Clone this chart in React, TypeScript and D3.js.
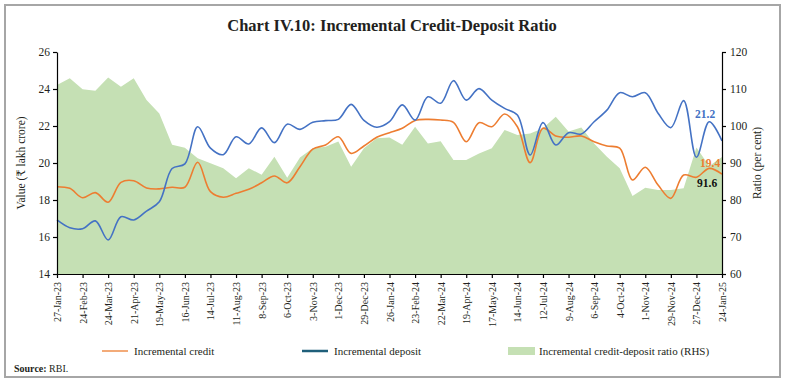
import React from "react";
import * as d3 from "d3";

// fortnightly observations, 27-Jan-23 to 24-Jan-25
const startDate = "27-Jan-23";

const tickLabels = [
  "27-Jan-23", "24-Feb-23", "24-Mar-23", "21-Apr-23", "19-May-23", "16-Jun-23",
  "14-Jul-23", "11-Aug-23", "8-Sep-23", "6-Oct-23", "3-Nov-23", "1-Dec-23",
  "29-Dec-23", "26-Jan-24", "23-Feb-24", "22-Mar-24", "19-Apr-24", "17-May-24",
  "14-Jun-24", "12-Jul-24", "9-Aug-24", "6-Sep-24", "4-Oct-24", "1-Nov-24",
  "29-Nov-24", "27-Dec-24", "24-Jan-25",
];

// ₹ lakh crore
const credit = [
  18.72, 18.63, 18.12, 18.4, 17.88, 18.95, 19.04, 18.65, 18.6, 18.69,
  18.69, 20.04, 18.45, 18.15, 18.36, 18.58, 18.93, 19.3, 18.93, 19.8,
  20.75, 20.97, 21.42, 20.52, 20.92, 21.39, 21.64, 21.88, 22.3, 22.36,
  22.32, 22.2, 21.15, 22.18, 21.96, 22.65, 21.96, 20.02, 21.88, 21.46,
  21.39, 21.46, 21.15, 20.92, 20.8, 19.08, 19.77, 18.81, 18.09, 19.35,
  19.23, 19.71, 19.4,
];

const deposit = [
  16.92, 16.5, 16.45, 16.87, 15.84, 17.1, 16.92, 17.4, 17.9, 19.7,
  19.95, 21.96, 20.8, 20.45, 21.42, 21.03, 21.9, 21.1, 22.1, 21.82,
  22.2, 22.29, 22.36, 23.17, 22.3, 21.93, 22.23, 23.14, 22.32, 23.58,
  23.23, 24.45, 23.4, 24.02, 23.4, 22.95, 22.6, 20.43, 22.18, 20.97,
  21.64, 21.57, 22.23, 22.86, 23.8, 23.58, 23.8, 22.69, 21.91, 23.37,
  20.31, 22.23, 21.2,
];

// per cent (RHS)
const ratio = [
  111.1, 112.9, 109.9, 109.5, 113.1, 110.6, 112.9, 107, 103.4, 94.9,
  94.1, 91.3, 89.9, 88.6, 85.9, 88.6, 86.8, 91.7, 86, 91.5,
  94, 94.4, 95.8, 89, 94, 96.7, 96.9, 94.9, 99.8, 95.3,
  95.9, 90.8, 90.8, 92.6, 94, 98.9, 97.6, 98, 99.4, 102.5,
  98.5, 99.6, 95.3, 91.7, 88.6, 81.1, 83.3, 82.7, 82.7, 83.2,
  94.2, 89.2, 91.6,
];

const leftTicks = [14, 16, 18, 20, 22, 24, 26];
const rightTicks = [60, 70, 80, 90, 100, 110, 120];

const FONT = "'Liberation Serif', 'DejaVu Serif', serif";
const ORANGE = "#ed7d31";
const BLUE = "#4472c4";
const GREEN = "#c5e0b4";

const App = () => {
  const ref = React.useRef(null);

  React.useEffect(() => {
    const svg = d3.select(ref.current);
    svg.selectAll("*").remove();

    const parse = d3.timeParse("%d-%b-%y");
    const t0 = parse(startDate);
    const dates = ratio.map((_, i) => d3.timeDay.offset(t0, 14 * i));

    const left = 57, right = 722, top = 52, bottom = 274;

    const x = d3.scaleTime()
      .domain([dates[0], dates[dates.length - 1]])
      .range([left, right]);
    const y = d3.scaleLinear().domain([14, 26]).range([bottom, top]);
    const y2 = d3.scaleLinear().domain([60, 120]).range([bottom, top]);

    // frame
    svg.append("rect")
      .attr("x", 5).attr("y", 5).attr("width", 775).attr("height", 372)
      .attr("fill", "#fff").attr("stroke", "#a6a6a6").attr("stroke-width", 2);

    svg.append("text")
      .attr("x", 392).attr("y", 31)
      .attr("text-anchor", "middle")
      .attr("font-family", FONT).attr("font-size", 16.5).attr("font-weight", 600)
      .attr("fill", "#231f20")
      .text("Chart IV.10: Incremental Credit-Deposit Ratio");

    // ratio area (RHS)
    const area = d3.area()
      .x((_, i) => x(dates[i]))
      .y0(y2(60))
      .y1((d) => y2(d));
    svg.append("path").datum(ratio).attr("d", area).attr("fill", GREEN);

    const line = d3.line()
      .x((_, i) => x(dates[i]))
      .y((d) => y(d))
      .curve(d3.curveCatmullRom.alpha(0.5));

    svg.append("path").datum(credit).attr("d", line)
      .attr("fill", "none").attr("stroke", ORANGE).attr("stroke-width", 1.6);
    svg.append("path").datum(deposit).attr("d", line)
      .attr("fill", "none").attr("stroke", BLUE).attr("stroke-width", 1.6);

    // axes
    const tickDates = tickLabels.map((s) => parse(s));
    const xAxis = svg.append("g")
      .attr("transform", `translate(0,${bottom})`)
      .call(d3.axisBottom(x).tickValues(tickDates).tickSize(4).tickSizeOuter(0)
        .tickFormat((_, i) => tickLabels[i]));
    xAxis.selectAll("text")
      .attr("transform", "rotate(-90)")
      .attr("text-anchor", "end")
      .attr("x", -8).attr("y", 0).attr("dy", "0.35em")
      .attr("font-size", 10);

    const yAxis = svg.append("g")
      .attr("transform", `translate(${left},0)`)
      .call(d3.axisLeft(y).tickValues(leftTicks).tickSize(4).tickSizeOuter(0));
    yAxis.selectAll("text").attr("x", -7).attr("font-size", 11.5);

    const y2Axis = svg.append("g")
      .attr("transform", `translate(${right},0)`)
      .call(d3.axisRight(y2).tickValues(rightTicks).tickSize(4).tickSizeOuter(0));
    y2Axis.selectAll("text").attr("x", 8).attr("font-size", 11.5);

    svg.selectAll(".domain, .tick line").attr("stroke", "#000").attr("stroke-width", 1.2);
    svg.selectAll(".tick text").attr("font-family", FONT).attr("fill", "#231f20");

    svg.append("text")
      .attr("transform", `translate(25,${(top + bottom) / 2}) rotate(-90)`)
      .attr("text-anchor", "middle")
      .attr("font-family", FONT).attr("font-size", 11.5).attr("fill", "#231f20")
      .text("Value (₹ lakh crore)");
    svg.append("text")
      .attr("transform", `translate(761,${(top + bottom) / 2}) rotate(-90)`)
      .attr("text-anchor", "middle")
      .attr("font-family", FONT).attr("font-size", 11.5).attr("fill", "#231f20")
      .text("Ratio (per cent)");

    // end labels
    const last = dates.length - 1;
    svg.append("text")
      .attr("x", x(dates[last]) - 27).attr("y", y(deposit[last]) - 23)
      .attr("font-family", FONT).attr("font-size", 11.5).attr("font-weight", "bold")
      .attr("fill", BLUE).text(d3.format(".1f")(deposit[last]));
    svg.append("text")
      .attr("x", x(dates[last]) - 22).attr("y", y(credit[last]) - 7)
      .attr("font-family", FONT).attr("font-size", 11.5).attr("font-weight", "bold")
      .attr("fill", ORANGE).text(d3.format(".1f")(credit[last]));
    svg.append("text")
      .attr("x", x(dates[last]) - 25).attr("y", y2(ratio[last]) + 30)
      .attr("font-family", FONT).attr("font-size", 11.5).attr("font-weight", "bold")
      .attr("fill", "#111").text(d3.format(".1f")(ratio[last]));

    // legend
    const legend = svg.append("g")
      .attr("font-family", FONT).attr("font-size", 11).attr("fill", "#231f20");
    legend.append("line").attr("x1", 102).attr("x2", 128).attr("y1", 351).attr("y2", 351)
      .attr("stroke", ORANGE).attr("stroke-width", 1.3);
    legend.append("text").attr("x", 134).attr("y", 355).text("Incremental credit");
    legend.append("line").attr("x1", 302).attr("x2", 328).attr("y1", 351).attr("y2", 351)
      .attr("stroke", "#1f5f7a").attr("stroke-width", 2.5);
    legend.append("text").attr("x", 334).attr("y", 355).text("Incremental deposit");
    legend.append("rect").attr("x", 508).attr("y", 347).attr("width", 27).attr("height", 8)
      .attr("fill", GREEN);
    legend.append("text").attr("x", 539).attr("y", 355).text("Incremental credit-deposit ratio (RHS)");

    const src = svg.append("text").attr("x", 14).attr("y", 372)
      .attr("font-family", FONT).attr("font-size", 10).attr("fill", "#231f20");
    src.append("tspan").attr("font-weight", "bold").text("Source: ");
    src.append("tspan").text("RBI.");
  }, []);

  return (
    <svg
      ref={ref}
      width={785}
      height={384}
      style={{ position: "absolute", left: 0, top: 0, background: "#fff" }}
    />
  );
};

export default App;
